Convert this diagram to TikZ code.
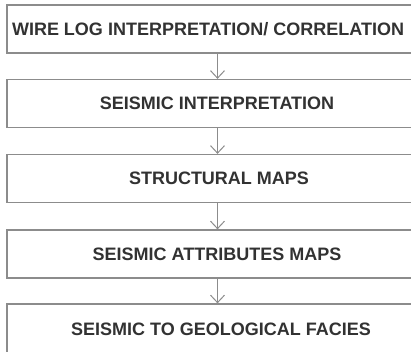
\documentclass[tikz,border=0pt]{standalone}
\usepackage{fontspec}
\setmainfont{Liberation Sans}
\usetikzlibrary{arrows.meta}
\definecolor{boxline}{RGB}{140,140,140}
\definecolor{txt}{RGB}{50,50,50}
\begin{document}
\begin{tikzpicture}[x=1pt,y=-1pt,
  stepbox/.style={draw=boxline,line width=1.3pt,minimum width=423pt,minimum height=48pt,inner sep=0pt,fill=white},
  steptext/.style={text=txt,font=\fontsize{18}{20}\selectfont\bfseries,inner sep=0pt},
  flow/.style={draw=boxline,line width=1pt,-{Straight Barb[length=7.5pt,width=14pt,line width=1pt]}}]
\useasboundingbox[fill=white] (0,0) rectangle (411,351);
\node[stepbox] (b1) at (218.5,29) {};
\node[stepbox] (b2) at (218.5,103.5) {};
\node[stepbox] (b3) at (218.5,178.5) {};
\node[stepbox] (b4) at (218.5,254) {};
\node[stepbox,minimum height=56pt] (b5) at (218.5,332) {};
\node[steptext] (t1) at (208,29) {WIRE LOG INTERPRETATION/ CORRELATION};
\node[steptext] (t2) at (217,103.5) {SEISMIC INTERPRETATION};
\node[steptext] (t3) at (219,178.5) {STRUCTURAL MAPS};
\node[steptext] (t4) at (217,254) {SEISMIC ATTRIBUTES MAPS};
\node[steptext] (t5) at (221,329) {SEISMIC TO GEOLOGICAL FACIES};
\draw[flow] (b1.south -| 217.5,0) -- (b2.north -| 217.5,0);
\draw[flow] (b2.south -| 217.5,0) -- (b3.north -| 217.5,0);
\draw[flow] (b3.south -| 217.5,0) -- (b4.north -| 217.5,0);
\draw[flow] (b4.south -| 217.5,0) -- (b5.north -| 217.5,0);
\end{tikzpicture}
\end{document}
